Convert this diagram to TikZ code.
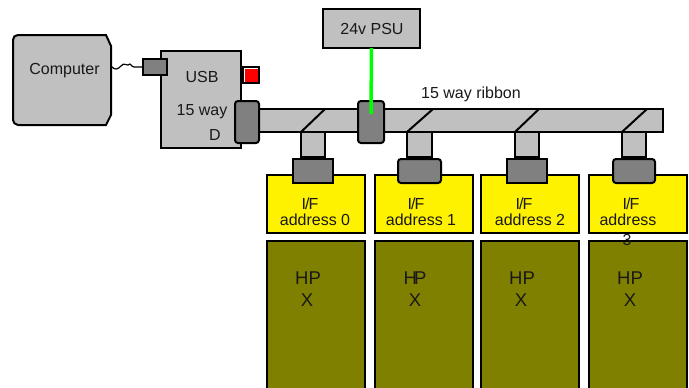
\documentclass[tikz,border=0pt]{standalone}
\usepackage{fontspec}
\setmainfont{Liberation Sans}
\definecolor{grayL}{HTML}{C0C0C0}
\definecolor{grayD}{HTML}{808080}
\definecolor{oliveC}{HTML}{808000}
\tikzset{
  outl/.style={draw=black,line width=2pt,inner sep=0pt,outer sep=0pt},
  box/.style={outl,fill=#1},
  lab/.style={inner sep=0pt,outer sep=0pt,font=\fontsize{16}{16}\selectfont,text=black!90},
  labhp/.style={inner sep=0pt,outer sep=0pt,font=\fontsize{18.5}{18.5}\selectfont,text=black!90}
}
\newcommand{\bx}[7][]{% name, x0,y0,x1,y1, fill
  \node[box=#7,minimum width=#4-#2,minimum height=#5-#3,#1] (#6) at ({(#2+#4)/2},{(#3+#5)/2}) {};}
\newcommand{\iftext}{I\kern-1pt/\kern-1pt F}
\begin{document}
\begin{tikzpicture}[x=1pt,y=-1pt]
\useasboundingbox (0,0) rectangle (689,388);
% computer
\draw[outl,fill=grayL] (18,35) -- (106,35) -- (111,46) -- (111,115) -- (106,125) -- (18,125)
  .. controls (15,125) and (13,122) .. (13,120) -- (13,40) .. controls (13,37) and (15,35) .. (18,35) -- cycle;
\node[lab] (computer) at (64.5,71) {Computer};
% usb module
\bx{161}{51}{241}{148}{usb}{grayL}
\node[lab] (usbt) at (202,77) {USB};
\node[lab] (wayt) at (202,112) {15 way};
\node[lab] (dt) at (215,135) {D};
\coordinate (compout) at (111,66);
\bx{143}{59}{167}{75}{plug}{grayD}
\draw[line width=1.2pt] (compout) .. controls (115,71) and (118,69) .. (121,66) .. controls (124,62) and (126,66) .. (128,65) .. controls (131,62) and (131,67) .. (134,67) -- (plug.west);
\bx{243}{67}{259}{83}{led}{white}
\fill[red] (245,68.5) rectangle (258,81.5);
% ribbon
\bx{259}{109}{663}{132}{ribbon}{grayL}
% branches
\bx{301}{132}{325}{157}{br0}{grayL}
\bx{407}{132}{432}{157}{br1}{grayL}
\bx{515}{132}{539}{157}{br2}{grayL}
\bx{622}{132}{646}{157}{br3}{grayL}
\draw[line width=2pt] (br0.north west) -- (325,109);
\draw[line width=2pt] (br1.north west) -- (433,109);
\draw[line width=2pt] (br2.north west) -- (539,109);
\draw[line width=2pt] (br3.north west) -- (647,109);
% interface boards
\bx{267}{175}{365}{233}{if0}{yellow}
\bx{375}{175}{473}{233}{if1}{yellow}
\bx{481}{175}{579}{233}{if2}{yellow}
\bx{589}{175}{687}{233}{if3}{yellow}
% HPX boxes
\bx{267}{241}{365}{392}{hp0}{oliveC}
\bx{375}{241}{473}{392}{hp1}{oliveC}
\bx{481}{241}{579}{392}{hp2}{oliveC}
\bx{589}{241}{687}{392}{hp3}{oliveC}
% connectors
\bx{293}{159}{333}{183}{c0}{grayD}
\bx[rounded corners=3pt]{398}{159}{441}{183}{c1}{grayD}
\bx{507}{159}{547}{183}{c2}{grayD}
\bx[rounded corners=3pt]{613}{159}{655}{183}{c3}{grayD}
\bx[rounded corners=3pt]{235}{101}{259}{143}{dconn}{grayD}
\bx[rounded corners=3pt]{358}{101}{384}{143}{mconn}{grayD}
% psu
\node[box=grayL,minimum width=97,minimum height=39] (psu) at (371.5,28.5) {};
\node[lab] (psut) at (372,29) {24v PSU};
\coordinate (pwr) at (371,114);
\draw[green,line width=3.5pt] (psu.south) -- (pwr);
\node[lab] (ribt) at (471,94) {15 way ribbon};
% interface text
\node[lab] (i0a) at (310,204) {\iftext};
\node[lab] (i0b) at (315,220) {address 0};
\node[lab] (i1a) at (416,204) {\iftext};
\node[lab] (i1b) at (421,220) {address 1};
\node[lab] (i2a) at (524,204) {\iftext};
\node[lab] (i2b) at (530,220) {address 2};
\node[lab] (i3a) at (631,204) {\iftext};
\node[lab] (i3b) at (628,220) {address};
\node[lab] (i3c) at (627,240) {3};
% hp text
\node[labhp] (h0a) at (308,278) {HP};
\node[labhp] (h0b) at (307,300) {X};
\node[labhp] (h1a) at (415,278) {H\kern-3pt P};
\node[labhp] (h1b) at (415,300) {X};
\node[labhp] (h2a) at (522,278) {HP};
\node[labhp] (h2b) at (521,300) {X};
\node[labhp] (h3a) at (630,278) {HP};
\node[labhp] (h3b) at (630,300) {X};
\end{tikzpicture}
\end{document}
